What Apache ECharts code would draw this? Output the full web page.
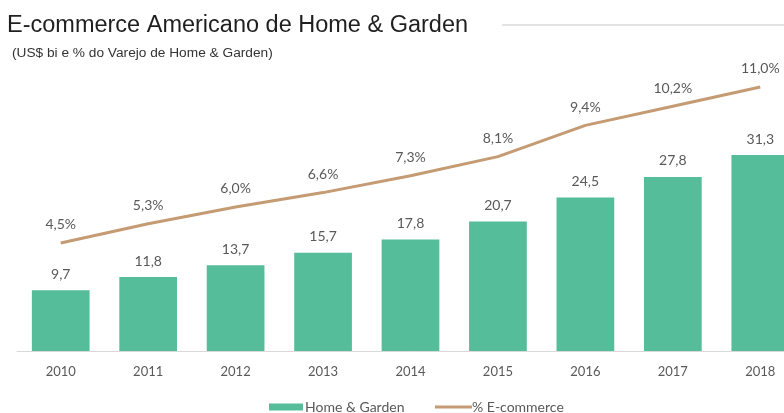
<!DOCTYPE html>
<html>
<head>
<meta charset="utf-8">
<script src="https://cdn.jsdelivr.net/npm/echarts@6/dist/echarts.min.js"></script>
<style>
  html, body { margin: 0; padding: 0; background: #fff; overflow: hidden; }
  /* plot runs past the right edge of the page, so the last bar is cut */
  #chart { width: 810px; height: 413px; }
</style>
</head>
<body>
<div id="chart"></div>
<script>
// Anos, vendas de Home & Garden (US$ bi) e participação do e-commerce (%)
const years = ['2010', '2011', '2012', '2013', '2014', '2015', '2016', '2017', '2018'];
const homeGarden = [9.7, 11.8, 13.7, 15.7, 17.8, 20.7, 24.5, 27.8, 31.3];
const ecommerceShare = [4.5, 5.3, 6.0, 6.6, 7.3, 8.1, 9.4, 10.2, 11.0];

const labelFont = 'Lato, "Open Sans", sans-serif';
const barColor = '#56bd9a';
const lineColor = '#c49b72';
const fmt = v => v.toFixed(1).replace('.', ',');

const chart = echarts.init(document.getElementById('chart'), null, { renderer: 'canvas' });

const legendText = { fontFamily: labelFont, fontSize: 14, color: '#595959' };

chart.setOption({
  backgroundColor: '#ffffff',
  animation: false,
  title: [
    {
      text: 'E-commerce Americano de Home & Garden',
      left: 2, top: 9,
      textStyle: { fontFamily: '"Liberation Sans", Arial, sans-serif', fontSize: 23.5, fontWeight: 'normal', color: '#1f1f1f' }
    },
    {
      text: '(US$ bi e % do Varejo de Home & Garden)',
      left: 7, top: 41,
      textStyle: { fontFamily: '"Liberation Sans", Arial, sans-serif', fontSize: 13.7, fontWeight: 'normal', color: '#333333' }
    }
  ],
  graphic: [
    {
      type: 'line',
      shape: { x1: 502, y1: 25, x2: 810, y2: 25 },
      style: { stroke: '#c8c8c8', lineWidth: 1 }
    }
  ],
  legend: [
    {
      left: 264, top: 395,
      itemWidth: 34, itemHeight: 7, itemGap: 0,
      textStyle: Object.assign({ padding: [0, 0, 0, -3] }, legendText),
      data: [{ name: 'Home & Garden', icon: 'rect' }]
    },
    {
      left: 430, top: 395,
      itemWidth: 37, itemHeight: 3, itemGap: 0,
      textStyle: Object.assign({ padding: [0, 0, 0, -5] }, legendText),
      data: [{ name: '% E-commerce', icon: 'rect' }]
    }
  ],
  grid: { left: 17, right: 6, top: 63, height: 288, containLabel: false },
  xAxis: {
    type: 'category',
    data: years,
    axisLine: { show: true, lineStyle: { color: '#d9d9d9', width: 1 } },
    axisTick: { show: false },
    axisLabel: { fontFamily: labelFont, fontSize: 13, color: '#595959', margin: 14 }
  },
  yAxis: [
    { type: 'value', min: 0, max: 46, show: false, splitLine: { show: false } },
    { type: 'value', min: 0, max: 12, show: false, splitLine: { show: false } }
  ],
  series: [
    {
      name: 'Home & Garden',
      type: 'bar',
      yAxisIndex: 0,
      data: homeGarden,
      barCategoryGap: '34%',
      itemStyle: { color: barColor },
      label: {
        show: true,
        position: 'top',
        distance: 9,
        formatter: p => fmt(p.value),
        fontFamily: labelFont, fontSize: 14, color: '#595959'
      }
    },
    {
      name: '% E-commerce',
      type: 'line',
      yAxisIndex: 1,
      data: ecommerceShare,
      symbol: 'circle',
      symbolSize: 0.1,
      showSymbol: true,
      clip: false,
      lineStyle: { color: lineColor, width: 3 },
      itemStyle: { color: lineColor },
      label: {
        show: true,
        position: 'top',
        distance: 11,
        formatter: p => fmt(p.value) + '%',
        fontFamily: labelFont, fontSize: 14, color: '#595959'
      }
    }
  ]
});
</script>
</body>
</html>
